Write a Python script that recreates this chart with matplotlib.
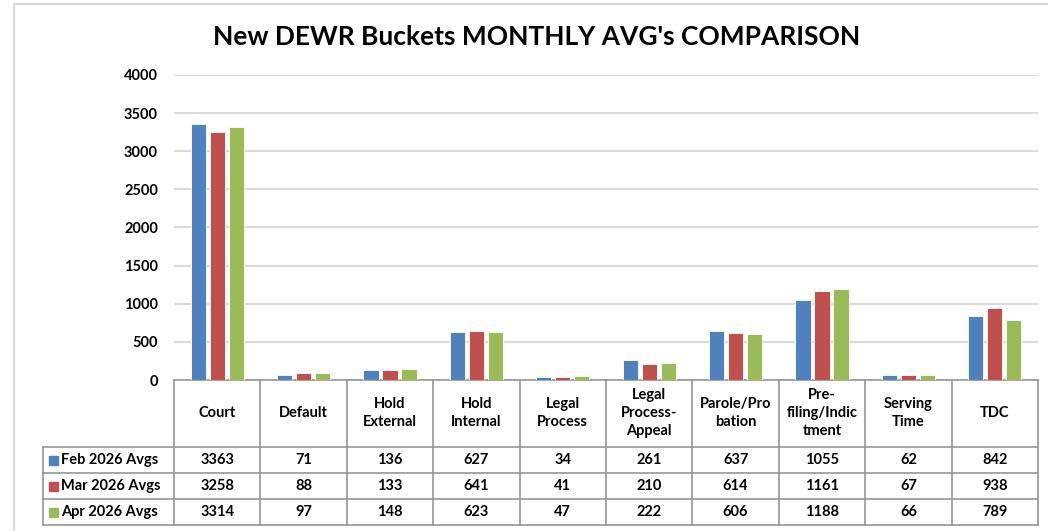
import matplotlib.pyplot as plt
import numpy as np
from matplotlib.patches import Rectangle
from matplotlib.lines import Line2D

# data
categories = ['Court', 'Default', 'Hold\nExternal', 'Hold\nInternal', 'Legal\nProcess',
              'Legal\nProcess-\nAppeal', 'Parole/Pro\nbation', 'Pre-\nfiling/Indic\ntment',
              'Serving\nTime', 'TDC']
series_names = ['Feb 2026 Avgs', 'Mar 2026 Avgs', 'Apr 2026 Avgs']
feb = [3363, 71, 136, 627, 34, 261, 637, 1055, 62, 842]
mar = [3258, 88, 133, 641, 41, 210, 614, 1161, 67, 938]
apr = [3314, 97, 148, 623, 47, 222, 606, 1188, 66, 789]
colors = ['#4F81BD', '#C0504D', '#9BBB59']

plt.rcParams['font.family'] = ['Lato', 'DejaVu Sans']
plt.rcParams['font.weight'] = 'bold'

W, H = 1048, 531
fig = plt.figure(figsize=(W / 100, H / 100), dpi=100)
ax = fig.add_axes([174 / W, (H - 380) / H, 864 / W, 305 / H])

x = np.arange(len(categories))
series = [feb, mar, apr]
for i, (vals, c) in enumerate(zip(series, colors)):
    ax.bar(x + (i - 1) * 0.22, vals, width=0.175, color=c,
           edgecolor='white', linewidth=0.6, zorder=3)

ax.set_xlim(-0.5, len(categories) - 0.5)
ax.set_ylim(0, 4000)
ax.set_yticks(range(0, 4001, 500))
ax.yaxis.grid(True, color='#d9d9d9', lw=1.5, zorder=0)
ax.set_axisbelow(True)
ax.tick_params(axis='y', length=0, pad=11.5, labelsize=10.5)
ax.set_xticks([])
for s in ['top', 'right', 'left']:
    ax.spines[s].set_visible(False)
ax.spines['bottom'].set_color('#969696')
ax.spines['bottom'].set_linewidth(1.2)

# data table under the plot
trans = ax.get_xaxis_transform()
cat_w = 86.4  # px per category


def yf(py):
    return (380 - py) / 305


def xd(px):
    return -0.5 - (174 - px) / cat_w


line_kw = dict(color='#969696', lw=1.2, transform=trans, clip_on=False)
x_left = xd(43)
x_right = len(categories) - 0.5
for py in [447, 473, 499, 525]:
    ax.plot([x_left, x_right], [yf(py)] * 2, **line_kw)
for b in np.arange(-0.5, len(categories), 1.0):
    ax.plot([b, b], [yf(380), yf(525)], **line_kw)
ax.plot([x_left, x_left], [yf(447), yf(525)], **line_kw)

for i, lab in enumerate(categories):
    ax.text(i, yf(413), lab, transform=trans, ha='center', va='center',
            fontsize=10.5, fontweight='bold', linespacing=1.4, clip_on=False)

row_y = [460, 486, 512]
for r, (name, vals, c) in enumerate(zip(series_names, series, colors)):
    ax.add_patch(Rectangle((xd(49), yf(row_y[r] + 4.5)), 9 / cat_w, 9 / 305,
                           transform=trans, color=c, clip_on=False))
    ax.text(xd(61), yf(row_y[r]), name, transform=trans, ha='left', va='center',
            fontsize=10.5, fontweight='bold', clip_on=False)
    for i, v in enumerate(vals):
        ax.text(i, yf(row_y[r]), str(v), transform=trans, ha='center', va='center',
                fontsize=10.5, fontweight='bold', clip_on=False)

fig.text(537 / W, 1 - 37 / H, "New DEWR Buckets MONTHLY AVG's COMPARISON",
         ha='center', va='center', fontsize=19, fontweight='bold')

# chart area frame (only top and left visible)
fig.add_artist(Line2D([14 / W, 1], [1 - 4 / H] * 2, color='#d9d9d9', lw=1.5))
fig.add_artist(Line2D([14 / W, 14 / W], [0, 1 - 4 / H], color='#d9d9d9', lw=1.5))

fig.savefig('out.png', dpi=100)
